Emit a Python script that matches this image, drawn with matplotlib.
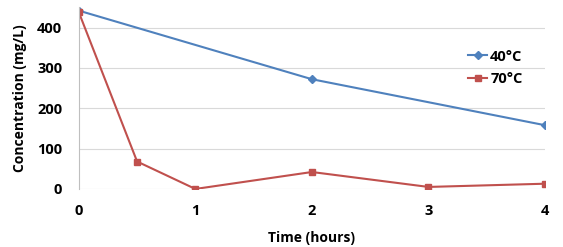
import matplotlib.pyplot as plt

t40 = [0, 2, 4]
c40 = [442, 272, 158]
t70 = [0, 0.5, 1, 2, 3, 4]
c70 = [438, 68, 0, 42, 5, 13]
labels = ['40°C', '70°C']

plt.rcParams['font.family'] = ['Open Sans', 'DejaVu Sans']
plt.rcParams['font.weight'] = 'bold'

fig = plt.figure(figsize=(5.63, 2.47), dpi=100)
ax = fig.add_axes([0.14, 0.235, 0.828, 0.735])

ax.plot(t40, c40, color='#4F81BD', marker='D', markersize=4, lw=1.5, label=labels[0])
ax.plot(t70, c70, color='#C0504D', marker='s', markersize=4, lw=1.5, label=labels[1])

ax.set_xlim(0, 4)
ax.set_ylim(0, 450)
ax.set_xticks([0, 1, 2, 3, 4])
ax.set_yticks([0, 100, 200, 300, 400])
ax.yaxis.grid(True, color='#D9D9D9', lw=0.8)
ax.set_axisbelow(True)
for s in ['top', 'right', 'bottom']:
    ax.spines[s].set_visible(False)
ax.spines['left'].set_color('#BFBFBF')
ax.tick_params(length=0, labelsize=10.5)
ax.tick_params(axis='x', pad=11)
ax.tick_params(axis='y', pad=12)
ax.set_xlabel('Time (hours)', fontsize=10, fontweight='bold', labelpad=9)
ax.set_ylabel('Concentration (mg/L)', fontsize=10, fontweight='bold', labelpad=7)
ax.legend(loc='upper right', bbox_to_anchor=(0.98, 0.84), frameon=False, fontsize=10.5,
          handlelength=1.3, handletextpad=0.2, labelspacing=0.6)

fig.savefig('out.png', dpi=100, facecolor='white')
